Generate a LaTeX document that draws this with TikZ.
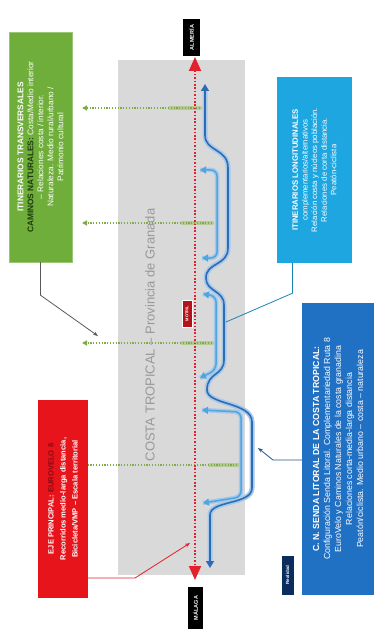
\documentclass[tikz,border=0pt]{standalone}
\usepackage{fontspec}
\setmainfont{Liberation Sans}
\usetikzlibrary{arrows.meta,calc}
\definecolor{gbg}{HTML}{D9D9D9}
\definecolor{gfill}{HTML}{6FAE3A}
\definecolor{gdark}{HTML}{1E3A0E}
\definecolor{rfill}{HTML}{E8141B}
\definecolor{rdark}{HTML}{8B0A10}
\definecolor{lbfill}{HTML}{1EA6E0}
\definecolor{dbfill}{HTML}{2070C4}
\definecolor{navy}{HTML}{0A2D5E}
\definecolor{redline}{HTML}{E3202C}
\definecolor{gline}{HTML}{7FAA48}
\definecolor{gbulb}{HTML}{B3C98E}
\definecolor{bhalo}{HTML}{A6C8EA}
\definecolor{bcore}{HTML}{2D6CB5}
\definecolor{binner}{HTML}{4FA6DE}
\definecolor{motrilred}{HTML}{B5121B}
\begin{document}
\begin{tikzpicture}[x=1pt,y=-1pt,
  rbox/.style={rotate=90,inner sep=1pt,align=center,text=white},
  city/.style={rotate=90,fill=black,text=white,inner sep=0pt,font=\bfseries\fontsize{5.5}{6}\selectfont},
  gdot/.style={draw=gline,line width=1.3pt,dash pattern=on 1.2pt off 1.6pt,-{Triangle[length=5pt,width=5pt]}},
  gblob/.style={draw=gbulb,line width=4.5pt,line cap=round,opacity=0.9},
  bhalo/.style={draw=bhalo,line width=5pt,line cap=round,line join=round},
  bcorel/.style={draw=bcore,line width=1.6pt,line join=round},
  binnerl/.style={draw=binner,line width=1.5pt,rounded corners=6pt},
  btip/.style={-{Triangle[length=7pt,width=8pt]}},
  conn/.style={line width=0.8pt}]
\useasboundingbox (0,0) rectangle (375,631);
% grey band
\fill[gbg] (118,60) rectangle (245,575);
\node[rotate=90,text=black!40,font=\fontsize{13}{14}\selectfont] (costa) at (150,335) {COSTA TROPICAL – Provincia de Granada};
% green transversal lines
\foreach \y/\xe in {108/200,223/212,343/212,465/240}{
  \coordinate (ge\y) at (\xe,\y);
  \coordinate (gs\y) at (82,\y);
  \draw[gblob] ($(ge\y)+(-30,0)$) -- (ge\y);
  \draw[gdot] (ge\y) -- (gs\y);
}
% blue path
\path[bhalo] (205,92) -- (205,135) .. controls (205,152) and (228,148) .. (228,168) -- (228,248) .. controls (228,266) and (206,262) .. (206,278) .. controls (206,292) and (224,290) .. (224,305) -- (224,360) .. controls (224,376) and (207,372) .. (207,390) .. controls (207,405) and (252,402) .. (252,422) -- (252,488) .. controls (252,505) and (210,500) .. (210,515) -- (210,560);
\foreach \p in {{(200,170) -- (217,170) -- (217,258) -- (202,258)},{(203,294) -- (216,296) -- (216,370) -- (200,378)},{(202,410) -- (241,412) -- (241,497) -- (203,503)}}{
  \path[draw=bhalo,line width=4.5pt,rounded corners=6pt] \p;
}
\coordinate (btop) at (205,84);
\coordinate (bbot) at (210,568);
\draw[bcorel,btip] (205,135) -- (btop);
\draw[bcorel,btip] (210,515) -- (bbot);
\draw[bcorel] (205,135) .. controls (205,152) and (228,148) .. (228,168) -- (228,248) .. controls (228,266) and (206,262) .. (206,278) .. controls (206,292) and (224,290) .. (224,305) -- (224,360) .. controls (224,376) and (207,372) .. (207,390) .. controls (207,405) and (252,402) .. (252,422) -- (252,488) .. controls (252,505) and (210,500) .. (210,515);
\draw[binnerl,{Triangle[length=6pt,width=7pt]}-{Triangle[length=6pt,width=7pt]}] (200,170) -- (217,170) -- (217,258) -- (202,258);
\draw[binnerl,{Triangle[length=6pt,width=7pt]}-{Triangle[length=6pt,width=7pt]}] (203,294) -- (216,296) -- (216,370) -- (200,378);
\draw[binnerl,{Triangle[length=6pt,width=7pt]}-{Triangle[length=6pt,width=7pt]}] (202,410) -- (241,412) -- (241,497) -- (203,503);
% red main axis
\coordinate (rtop) at (195,57);
\coordinate (rbot) at (195,580);
\draw[redline,line width=2pt,dash pattern=on 1.6pt off 1.8pt,{Triangle[length=14pt,width=12pt]}-{Triangle[length=14pt,width=12pt]}] (rtop) -- (rbot);
% city labels
\node[city,minimum width=37pt,minimum height=17pt] (alm) at (191.5,37.5) {ALMERÍA};
\node[city,minimum width=42pt,minimum height=15pt] (mal) at (195.5,608) {MÁLAGA};
\node[rotate=90,fill=motrilred,draw=white,line width=0.8pt,text=white,inner sep=0pt,minimum width=27pt,minimum height=10pt,font=\bfseries\fontsize{4}{4}\selectfont] (mot) at (187,313.5) {MOTRIL};
% green box
\node[rbox,fill=gfill,draw=gfill!70!white,minimum width=230pt,minimum height=63pt,font=\fontsize{8.3}{10}\selectfont] (gbox) at (40.5,147) {\textbf{ITINERARIOS TRANSVERSALES}\\\textbf{\textcolor{gdark}{CAMINOS NATURALES:}} Costa/Medio interior\\– Relaciones costa / interior.\\Naturaleza. Medio rural/urbano /\\Patrimonio cultural};
% red box
\node[rbox,fill=rfill,minimum width=198pt,minimum height=50pt,font=\bfseries\fontsize{7.6}{12}\selectfont] (rbx) at (63,499) {EJE PRINCIPAL: \textcolor{rdark}{EUROVELO 8}\\Recorridos medio-larga distancia,\\Bicicleta/VMP – Escala territorial};
% light blue box
\node[rbox,fill=lbfill,minimum width=186pt,minimum height=75pt,font=\fontsize{7.8}{9.6}\selectfont] (lbb) at (314.5,170) {\textbf{ITINERARIOS LONGITUDINALES}\\complementarios/alternativos\\Relación costa y núcleos población.\\Relaciones de corta distancia.\\Peatón-ciclista};
% dark blue box
\node[rbox,fill=dbfill,minimum width=292pt,minimum height=72pt,font=\fontsize{8.8}{11}\selectfont] (dbb) at (338,449) {\textbf{C. N. SENDA LITORAL DE LA COSTA TROPICAL:}\\Configuración Senda Litoral. Complementariedad Ruta 8\\EuroVelo y Caminos Naturales de la costa granadina\\Relaciones corta-media-larga distancia\\Peatón/ciclista. Medio urbano – costa – naturaleza};
\node[rotate=90,fill=navy,draw=white,line width=0.6pt,text=white,inner sep=0pt,minimum width=40pt,minimum height=13pt,font=\bfseries\fontsize{4.5}{5}\selectfont] (tag) at (287.5,575) {Realidad};
% connectors
\coordinate (gend) at (98,336);
\draw[conn,draw=black!65,-{Stealth[length=5pt]}] (gbox.west) -- ($(gbox.west)+(0,33)$) -- (gend);
\coordinate (rend) at (190,543);
\draw[conn,draw=redline,-{Stealth[length=5pt]}] ($(rbx.south)+(0,79)$) -- (135,578) -- (rend);
\coordinate (lend) at (226,322);
\draw[conn,draw=lbfill!80!black] ($(lbb.west)+(-22,0)$) -- ($(lbb.west)+(-22,30)$) -- (lend);
\coordinate (dend) at (258,448);
\draw[conn,draw=bcore!80!black,-{Stealth[length=5pt,open]}] ($(dbb.north)+(0,11)$) -- (273,460) -- (dend);
\end{tikzpicture}
\end{document}
